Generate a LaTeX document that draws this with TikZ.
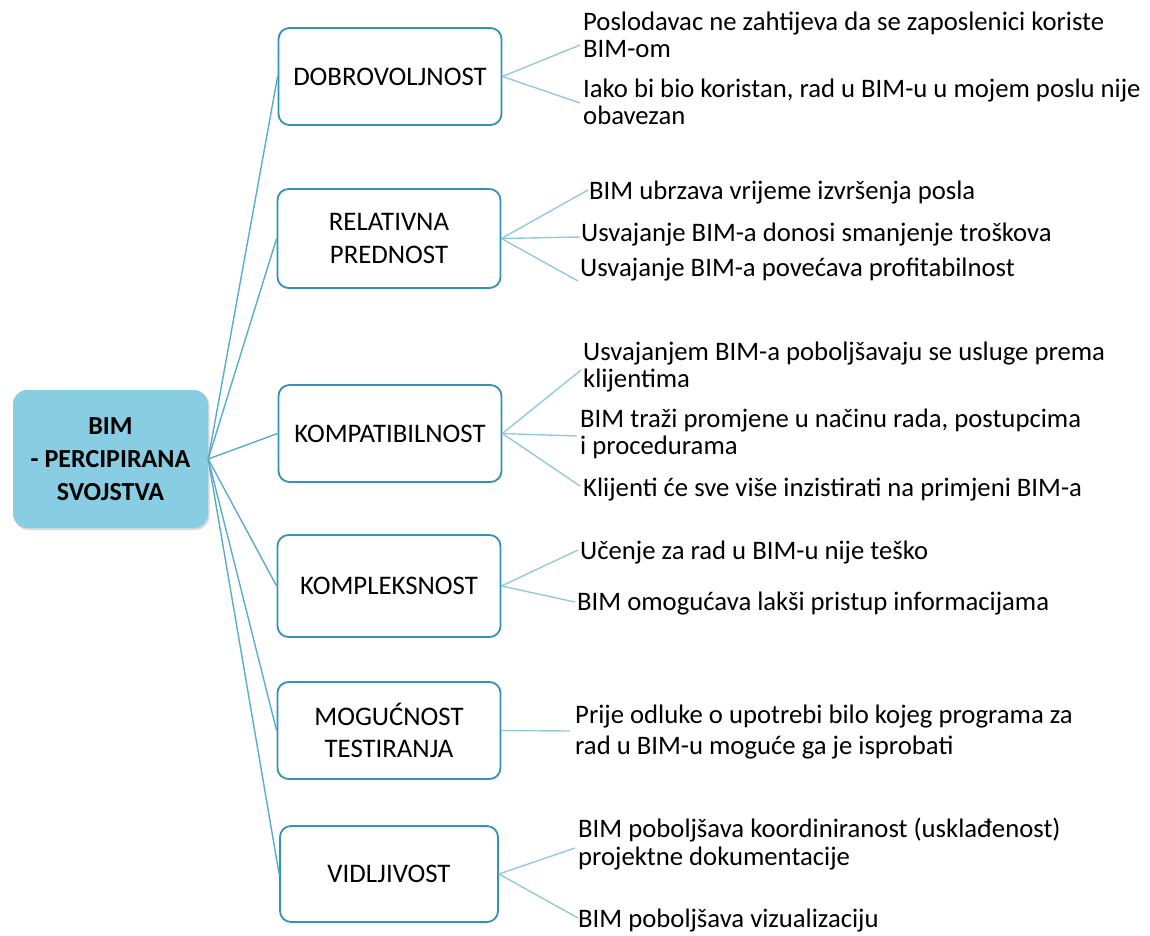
\documentclass[tikz,border=0pt]{standalone}
\usepackage{fontspec}
\setmainfont{Carlito}
\usetikzlibrary{shadows}
\definecolor{rootfill}{HTML}{88CDE2}
\definecolor{boxline}{HTML}{3293B4}
\definecolor{rootline}{HTML}{58AECA}
\definecolor{leafline}{HTML}{92CADC}
\begin{document}
\begin{tikzpicture}[x=1pt,y=-1pt,
 catbox/.style={draw=boxline, line width=1.8pt, rounded corners=11pt, fill=white, minimum width=223pt, align=center, font=\fontsize{26.8}{32.5}\selectfont, inner sep=0pt},
 rootbox/.style={fill=rootfill, rounded corners=14pt, minimum width=195pt, minimum height=138pt, align=center, font=\fontsize{26}{33}\selectfont\bfseries, drop shadow={opacity=0.3, shadow xshift=1.5pt, shadow yshift=-2pt}},
 leaf/.style={anchor=west, align=left, inner sep=0pt, font=\fontsize{26.7}{27.5}\selectfont},
 rootedge/.style={draw=rootline, line width=1.4pt},
 leafedge/.style={draw=leafline, line width=1.4pt}]
\useasboundingbox (0,0) rectangle (1150,935);

% root
\node[rootbox] (root) at (110.5,459) {BIM\\- PERCIPIRANA\\SVOJSTVA};

% categories
\node[catbox, minimum height=97pt] (dob) at (390,76.5) {DOBROVOLJNOST};
\node[catbox, minimum height=99pt] (rel) at (389,238.5) {RELATIVNA\\PREDNOST};
\node[catbox, minimum height=97pt] (kpt) at (390,433.5) {KOMPATIBILNOST};
\node[catbox, minimum height=102pt] (kpl) at (389,586) {KOMPLEKSNOST};
\node[catbox, minimum height=97pt] (mog) at (389,730.5) {MOGUĆNOST\\TESTIRANJA};
\node[catbox, minimum height=96pt, minimum width=218pt] (vid) at (389,874) {VIDLJIVOST};

% root connectors
\foreach \c in {dob,rel,kpt,kpl,mog,vid}{
  \draw[rootedge] (root.east) -- (\c.west);
}

% leaf texts
\node[leaf] (d1t) at (583,35) {Poslodavac ne zahtijeva da se zaposlenici koriste\\BIM-om};
\node[leaf] (d2t) at (583,102) {Iako bi bio koristan, rad u BIM-u u mojem poslu nije\\obavezan};
\node[leaf] (r1t) at (589,193) {BIM ubrzava vrijeme izvršenja posla};
\node[leaf] (r2t) at (581,235) {Usvajanje BIM-a donosi smanjenje troškova};
\node[leaf] (r3t) at (580,270) {Usvajanje BIM-a povećava profitabilnost};
\node[leaf] (k1t) at (583,367) {Usvajanjem BIM-a poboljšavaju se usluge prema\\klijentima};
\node[leaf] (k2t) at (580,434) {BIM traži promjene u načinu rada, postupcima\\i procedurama};
\node[leaf] (k3t) at (583,490) {Klijenti će sve više inzistirati na primjeni BIM-a};
\node[leaf] (p1t) at (580,553) {Učenje za rad u BIM-u nije teško};
\node[leaf] (p2t) at (577,604) {BIM omogućava lakši pristup informacijama};
\node[leaf, font=\fontsize{26.7}{31}\selectfont] (m1t) at (575,732) {Prije odluke o upotrebi bilo kojeg programa za\\rad u BIM-u moguće ga je isprobati};
\node[leaf] (v1t) at (578,844) {BIM poboljšava koordiniranost (usklađenost)\\projektne dokumentacije};
\node[leaf] (v2t) at (578,921) {BIM poboljšava vizualizaciju};

% leaf connector ends
\coordinate (d1) at (580,45);
\coordinate (d2) at (580,103);
\coordinate (r1) at (588,190);
\coordinate (r2) at (580,237);
\coordinate (r3) at (578,281);
\coordinate (k1) at (581,370);
\coordinate (k2) at (577,436);
\coordinate (k3) at (580,486);
\coordinate (p1) at (578,550);
\coordinate (p2) at (575,602);
\coordinate (m1) at (570,731);
\coordinate (v1) at (575,848);
\coordinate (v2) at (578,918);

\draw[leafedge] (dob.east) -- (d1);
\draw[leafedge] (dob.east) -- (d2);
\draw[leafedge] (rel.east) -- (r1);
\draw[leafedge] (rel.east) -- (r2);
\draw[leafedge] (rel.east) -- (r3);
\draw[leafedge] (kpt.east) -- (k1);
\draw[leafedge] (kpt.east) -- (k2);
\draw[leafedge] (kpt.east) -- (k3);
\draw[leafedge] (kpl.east) -- (p1);
\draw[leafedge] (kpl.east) -- (p2);
\draw[leafedge] (mog.east) -- (m1);
\draw[leafedge] (vid.east) -- (v1);
\draw[leafedge] (vid.east) -- (v2);
\end{tikzpicture}
\end{document}
